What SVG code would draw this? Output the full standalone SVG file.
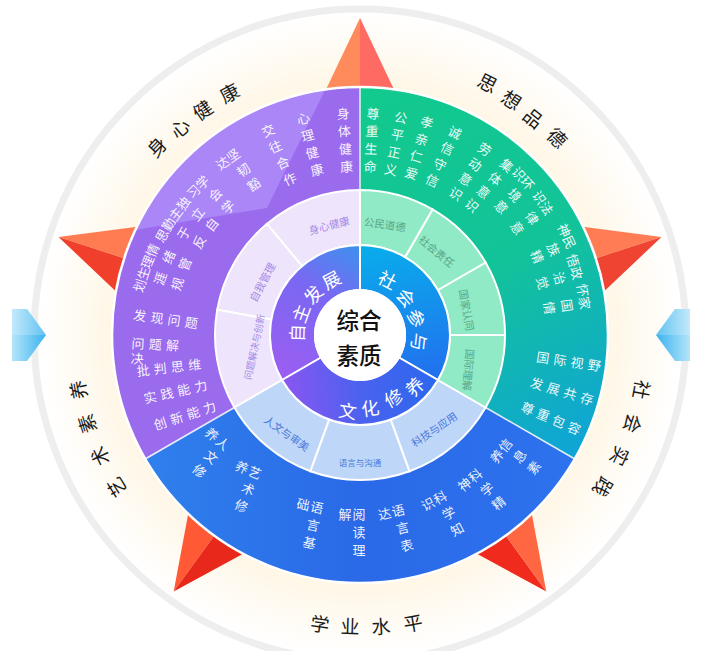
<svg xmlns="http://www.w3.org/2000/svg" width="702" height="651" viewBox="0 0 702 651">
<defs>
<style>
text{font-family:'Noto Sans CJK SC','Noto Sans',sans-serif;text-anchor:middle;dominant-baseline:central}
.w{fill:#fff;fill-opacity:.93;font-size:13px}
.lbl{fill:#1a1a1a;font-size:19px}
.in{fill:#fff;font-size:18px}
.lp{fill:#a48ae6;font-size:10.5px}
.lg{fill:#5aa687;font-size:10.5px}
.lb{fill:#4b78d8;font-size:10.5px}
.ctr{fill:#111;font-size:22.5px;font-weight:500}
.sep{stroke:#fff;stroke-width:1.5;stroke-opacity:.85}
.seg{stroke:#fff;stroke-width:2}
</style>
<radialGradient id="glow" cx="360" cy="335" r="322" gradientUnits="userSpaceOnUse">
<stop offset="0.74" stop-color="#fff5e2"/>
<stop offset="0.86" stop-color="#fffaf0"/>
<stop offset="1" stop-color="#ffffff"/>
</radialGradient>
<linearGradient id="gGreen" x1="380" y1="90" x2="575" y2="460" gradientUnits="userSpaceOnUse">
<stop offset="0" stop-color="#12c98e"/>
<stop offset="0.5" stop-color="#12c399"/>
<stop offset="1" stop-color="#0fa3d8"/>
</linearGradient>
<linearGradient id="gBlue" x1="145" y1="460" x2="575" y2="460" gradientUnits="userSpaceOnUse">
<stop offset="0" stop-color="#2f80ec"/>
<stop offset="0.5" stop-color="#2a69e7"/>
<stop offset="1" stop-color="#2d72ee"/>
</linearGradient>
<linearGradient id="gZi" x1="285" y1="375" x2="360" y2="248" gradientUnits="userSpaceOnUse">
<stop offset="0" stop-color="#9a5ef2"/>
<stop offset="0.6" stop-color="#7a68f2"/>
<stop offset="1" stop-color="#3f8fee"/>
</linearGradient>
<linearGradient id="gShe" x1="400" y1="245" x2="420" y2="380" gradientUnits="userSpaceOnUse">
<stop offset="0" stop-color="#09abeb"/>
<stop offset="1" stop-color="#2270ee"/>
</linearGradient>
<linearGradient id="gWen" x1="285" y1="400" x2="438" y2="380" gradientUnits="userSpaceOnUse">
<stop offset="0" stop-color="#8a56f1"/>
<stop offset="0.5" stop-color="#4a62ef"/>
<stop offset="1" stop-color="#2a68ee"/>
</linearGradient>
<linearGradient id="gArrL" x1="12" y1="0" x2="47" y2="0" gradientUnits="userSpaceOnUse">
<stop offset="0" stop-color="#b4e5fa"/>
<stop offset="1" stop-color="#36b1ee"/>
</linearGradient>
<linearGradient id="gArrR" x1="690" y1="0" x2="655" y2="0" gradientUnits="userSpaceOnUse">
<stop offset="0" stop-color="#b4e5fa"/>
<stop offset="1" stop-color="#36b1ee"/>
</linearGradient>
<clipPath id="clipPurple"><path d="M360,335 L360,87 A248,248 0 0 0 145.2,459 Z"/></clipPath>
</defs>

<rect width="702" height="651" fill="#fff"/>
<circle cx="360" cy="335" r="322" fill="url(#glow)"/>
<circle cx="360" cy="335" r="326" fill="none" stroke="#eeeeee" stroke-width="7"/>

<g id="star">
<polygon points="360,18 268.9,209.6 360,335" fill="#ff8a5c"/>
<polygon points="360,18 360,335 451.1,209.6" fill="#ff6b62"/>
<polygon points="58.5,237 268.9,209.6 360,335" fill="#ff7b52"/>
<polygon points="58.5,237 360,335 212.6,382.9" fill="#f0402c"/>
<polygon points="173.7,591.5 212.6,382.9 360,335" fill="#ff5a35"/>
<polygon points="173.7,591.5 360,335 360,490" fill="#e8281b"/>
<polygon points="546.3,591.5 360,490 360,335" fill="#f02a1c"/>
<polygon points="546.3,591.5 360,335 507.4,382.9" fill="#ff6642"/>
<polygon points="661.5,237 451.1,209.6 360,335" fill="#ff7c55"/>
<polygon points="661.5,237 360,335 507.4,382.9" fill="#f04432"/>
</g>

<g id="sector-purple">
<path d="M360,335 L360,87 A248,248 0 0 0 145.2,459 Z" fill="#9b6bee"/>
<polygon points="330,80 267,208 122,232 60,60" fill="#aa86f7" clip-path="url(#clipPurple)"/>
</g>
<g id="sector-green">
<path d="M360,335 L574.8,459 A248,248 0 0 0 360,87 Z" fill="url(#gGreen)"/>
</g>
<g id="sector-blue">
<path d="M360,335 L145.2,459 A248,248 0 0 0 574.8,459 Z" fill="url(#gBlue)"/>
</g>
<circle cx="360" cy="335" r="248" fill="none" stroke="#fff" stroke-width="2.5"/>

<g id="separators">
<line class="sep" x1="360" y1="190" x2="360" y2="87"/>
<line class="sep" x1="234.4" y1="407.5" x2="145.2" y2="459"/>
<line class="sep" x1="485.6" y1="407.5" x2="574.8" y2="459"/>
</g>

<g id="outer-purple-texts">
<g transform="translate(343,113) rotate(-4)"><text class="w" x="0 0 0 0" y="0 17.7 35.4 53.1">身体健康</text></g>
<g transform="translate(303,118) rotate(-15)"><text class="w" x="0 0 0 0" y="0 17.7 35.4 53.1">心理健康</text></g>
<g transform="translate(268,130) rotate(-24)"><text class="w" x="0 0 0 0" y="0 17.7 35.4 53.1">交往合作</text></g>
<g transform="translate(233,155) rotate(-35)"><text class="w" x="0 0 0" y="0 17.7 35.4">坚韧豁</text><text class="w" x="-13" y="0">达</text></g>
<g transform="translate(202,182) rotate(-46)"><text class="w" x="0 0 0" y="0 17.7 35.4">学会学</text><text class="w" x="-13" y="0">习</text></g>
<g transform="translate(183,203) rotate(-53)"><text class="w" x="0 0 0" y="0 17.7 35.4">独立自</text><text class="w" x="-13" y="0">主</text></g>
<g transform="translate(168,224) rotate(-60)"><text class="w" x="0 0 0" y="0 17.7 35.4">勤于反</text><text class="w" x="-13" y="0">思</text></g>
<g transform="translate(152,250) rotate(-67)"><text class="w" x="0 0 0" y="0 17.7 35.4">情绪管</text><text class="w" x="-13" y="0">理</text></g>
<g transform="translate(143,273) rotate(-72)"><text class="w" x="0 0 0" y="0 17.7 35.4">生涯规</text><text class="w" x="-13" y="0">划</text></g>
<g transform="translate(140,315) rotate(8)"><text class="w" x="0 17.3 34.6 51.9" y="0">发现问题</text></g>
<g transform="translate(138,343) rotate(3)"><text class="w" x="0 17.3 34.6" y="0">问题解</text><text class="w" x="0" y="15">决</text></g>
<g transform="translate(143,370) rotate(-6.5)"><text class="w" x="0 17.3 34.6 51.9" y="0">批判思维</text></g>
<g transform="translate(150,397) rotate(-13)"><text class="w" x="0 17.3 34.6 51.9" y="0">实践能力</text></g>
<g transform="translate(160,423) rotate(-18)"><text class="w" x="0 17.3 34.6 51.9" y="0">创新能力</text></g>
</g>

<g id="outer-green-texts">
<g transform="translate(373,113) rotate(3)"><text class="w" x="0 0 0 0" y="0 17.7 35.4 53.1">尊重生命</text></g>
<g transform="translate(401,117) rotate(11)"><text class="w" x="0 0 0 0" y="0 17.7 35.4 53.1">公平正义</text></g>
<g transform="translate(427,122) rotate(17)"><text class="w" x="0 0 0 0" y="0 17.7 35.4 53.1">孝亲仁爱</text></g>
<g transform="translate(455,132) rotate(25)"><text class="w" x="0 0 0 0" y="0 17.7 35.4 53.1">诚信守信</text></g>
<g transform="translate(485,149) rotate(33)"><text class="w" x="0 0 0 0" y="0 17.7 35.4 53.1">劳动意识</text></g>
<g transform="translate(507,165) rotate(41)"><text class="w" x="0 0 0 0" y="0 17.7 35.4 53.1">集体意识</text></g>
<g transform="translate(528,183) rotate(48)"><text class="w" x="0 0 0" y="0 17.7 35.4">环境意</text><text class="w" x="-13" y="0">识</text></g>
<g transform="translate(547,208) rotate(56)"><text class="w" x="0 0 0" y="0 17.7 35.4">法律意</text><text class="w" x="-13" y="0">识</text></g>
<g transform="translate(570,242) rotate(66)"><text class="w" x="0 0 0" y="0 17.7 35.4">民族精</text><text class="w" x="-13" y="0">神</text></g>
<g transform="translate(577,273) rotate(74)"><text class="w" x="0 0 0" y="0 17.7 35.4">政治觉</text><text class="w" x="-13" y="0">悟</text></g>
<g transform="translate(585,303) rotate(82)"><text class="w" x="0 0 0" y="0 17.7 35.4">家国情</text><text class="w" x="-13" y="0">怀</text></g>
<g transform="translate(543,357) rotate(8.7)"><text class="w" x="0 17.4 34.8 52.2" y="0">国际视野</text></g>
<g transform="translate(537,383) rotate(16.7)"><text class="w" x="0 17.4 34.8 52.2" y="0">发展共存</text></g>
<g transform="translate(528,408) rotate(22.9)"><text class="w" x="0 16.8 33.6 50.4" y="0">尊重包容</text></g>
</g>

<g id="outer-blue-texts">
<g transform="translate(223,443) rotate(40)"><text class="w" x="0 0 0" y="0 18 36">人文修</text><text class="w" x="-14" y="0">养</text></g>
<g transform="translate(255,472) rotate(22)"><text class="w" x="0 0 0" y="0 18 36">艺术修</text><text class="w" x="-14" y="0">养</text></g>
<g transform="translate(317,507) rotate(12)"><text class="w" x="0 0 0" y="0 18 36">语言基</text><text class="w" x="-14" y="0">础</text></g>
<g transform="translate(359,513) rotate(0)"><text class="w" x="0 0 0" y="0 18 36">阅读理</text><text class="w" x="-14" y="0">解</text></g>
<g transform="translate(398,510) rotate(-14)"><text class="w" x="0 0 0" y="0 18 36">语言表</text><text class="w" x="-14" y="0">达</text></g>
<g transform="translate(440,497) rotate(-28)"><text class="w" x="0 0 0" y="0 18 36">科学知</text><text class="w" x="-14" y="0">识</text></g>
<g transform="translate(475,475) rotate(-40)"><text class="w" x="0 0 0" y="0 18 36">科学精</text><text class="w" x="-14" y="0">神</text></g>
<g transform="translate(505,445) rotate(-52)"><text class="w" x="0 0 0" y="0 18 36">信息素</text><text class="w" x="-14" y="0">养</text></g>
</g>

<g id="light-ring">
<g id="seg-shenxin"><path class="seg" d="M360,190 A145,145 0 0 0 266.8,223.9 L302.1,266.1 A90,90 0 0 1 360,245 Z" fill="#eee4fb"/><text class="lp" transform="translate(329,225) rotate(-15)">身心健康</text></g>
<g id="seg-ziwo"><path class="seg" d="M266.8,223.9 A145,145 0 0 0 217.2,309.8 L271.4,319.4 A90,90 0 0 1 302.1,266.1 Z" fill="#eee4fb"/><text class="lp" transform="translate(262,282) rotate(-62)">自我管理</text></g>
<g id="seg-wenti"><path class="seg" d="M217.2,309.8 A145,145 0 0 0 234.4,407.5 L282.1,380 A90,90 0 0 1 271.4,319.4 Z" fill="#eee4fb"/><text class="lp" style="font-size:9.5px" transform="translate(254,347) rotate(-78)">问题解决与创新</text></g>
<g id="seg-renwen"><path class="seg" d="M234.4,407.5 A145,145 0 0 0 310.4,471.3 L329.2,419.6 A90,90 0 0 1 282.1,380 Z" fill="#bed6f8"/><text class="lb" transform="translate(287,433) rotate(35)">人文与审美</text></g>
<g id="seg-yuyan"><path class="seg" d="M310.4,471.3 A145,145 0 0 0 409.6,471.3 L390.8,419.6 A90,90 0 0 1 329.2,419.6 Z" fill="#bed6f8"/><text class="lb" style="font-size:8.5px" transform="translate(360,462)">语言与沟通</text></g>
<g id="seg-keji"><path class="seg" d="M409.6,471.3 A145,145 0 0 0 485.6,407.5 L437.9,380 A90,90 0 0 1 390.8,419.6 Z" fill="#bed6f8"/><text class="lb" transform="translate(434,429) rotate(-34)">科技与应用</text></g>
<g id="seg-guoji"><path class="seg" d="M485.6,407.5 A145,145 0 0 0 505,335 L450,335 A90,90 0 0 1 437.9,380 Z" fill="#90eac5"/><text class="lg" transform="translate(469,370) rotate(95)">国际理解</text></g>
<g id="seg-guojia"><path class="seg" d="M505,335 A145,145 0 0 0 485.6,262.5 L437.9,290 A90,90 0 0 1 450,335 Z" fill="#90eac5"/><text class="lg" transform="translate(467,310) rotate(80)">国家认同</text></g>
<g id="seg-shehui"><path class="seg" d="M485.6,262.5 A145,145 0 0 0 432.5,209.4 L405,257.1 A90,90 0 0 1 437.9,290 Z" fill="#90eac5"/><text class="lg" transform="translate(437,251) rotate(40)">社会责任</text></g>
<g id="seg-gongmin"><path class="seg" d="M432.5,209.4 A145,145 0 0 0 360,190 L360,245 A90,90 0 0 1 405,257.1 Z" fill="#90eac5"/><text class="lg" transform="translate(385,224) rotate(8)">公民道德</text></g>
</g>

<g id="inner-ring">
<g id="seg-zizhu"><path class="seg" d="M360,245 A90,90 0 0 0 282.1,380 L321,357.5 A45,45 0 0 1 360,290 Z" fill="url(#gZi)"/>
<text class="in" transform="translate(296,333) rotate(-88)">自</text>
<text class="in" transform="translate(300,313) rotate(-70)">主</text>
<text class="in" transform="translate(312.5,294) rotate(-50)">发</text>
<text class="in" transform="translate(331,279) rotate(-28)">展</text></g>
<g id="seg-canyu"><path class="seg" d="M437.9,380 A90,90 0 0 0 360,245 L360,290 A45,45 0 0 1 399,357.5 Z" fill="url(#gShe)"/>
<text class="in" transform="translate(388,279) rotate(27)">社</text>
<text class="in" transform="translate(407,297) rotate(50)">会</text>
<text class="in" transform="translate(417,318) rotate(73)">参</text>
<text class="in" transform="translate(420,342) rotate(96)">与</text></g>
<g id="seg-wenhua"><path class="seg" d="M282.1,380 A90,90 0 0 0 437.9,380 L399,357.5 A45,45 0 0 1 321,357.5 Z" fill="url(#gWen)"/>
<text class="in" transform="translate(348,410) rotate(9)">文</text>
<text class="in" transform="translate(370,407) rotate(-8)">化</text>
<text class="in" transform="translate(393,397) rotate(-28)">修</text>
<text class="in" transform="translate(414,386) rotate(-46)">养</text></g>
</g>

<g id="center">
<circle cx="360" cy="335" r="46" fill="#fff"/>
<text class="ctr" x="359" y="319">综合</text>
<text class="ctr" x="359" y="354">素质</text>
</g>

<g id="arrow-left">
<polygon points="12,309 27,309 46,335 27,361 12,361" fill="url(#gArrL)"/>
<polygon points="12,309 27,309 46,335 12,335" fill="#fff" fill-opacity="0.2"/>
</g>
<g id="arrow-right">
<polygon points="690,309 675,309 656,335 675,361 690,361" fill="url(#gArrR)"/>
<polygon points="690,309 675,309 656,335 690,335" fill="#fff" fill-opacity="0.2"/>
</g>

<g id="label-shenxin">
<text class="lbl" transform="translate(156,146) rotate(-47)">身</text>
<text class="lbl" transform="translate(179,127) rotate(-41)">心</text>
<text class="lbl" transform="translate(202,109) rotate(-35)">健</text>
<text class="lbl" transform="translate(229,92) rotate(-28)">康</text>
</g>
<g id="label-sixiang">
<text class="lbl" transform="translate(488,82) rotate(27)">思</text>
<text class="lbl" transform="translate(512,99) rotate(33)">想</text>
<text class="lbl" transform="translate(534,117) rotate(39)">品</text>
<text class="lbl" transform="translate(558,137) rotate(45)">德</text>
</g>
<g id="label-shehui">
<text class="lbl" transform="translate(642.7,390) rotate(101)">社</text>
<text class="lbl" transform="translate(634,424) rotate(108)">会</text>
<text class="lbl" transform="translate(621,456.7) rotate(115)">实</text>
<text class="lbl" transform="translate(604,487.6) rotate(122)">践</text>
</g>
<g id="label-xueye">
<text class="lbl" transform="translate(320,623) rotate(8)">学</text>
<text class="lbl" transform="translate(350,625) rotate(2)">业</text>
<text class="lbl" transform="translate(381,625) rotate(-4)">水</text>
<text class="lbl" transform="translate(413,622) rotate(-10)">平</text>
</g>
<g id="label-yishu">
<text class="lbl" transform="translate(115.8,487.6) rotate(-122)">艺</text>
<text class="lbl" transform="translate(99,456.7) rotate(-115)">术</text>
<text class="lbl" transform="translate(86,424) rotate(-108)">素</text>
<text class="lbl" transform="translate(77.3,390) rotate(-101)">养</text>
</g>
</svg>
